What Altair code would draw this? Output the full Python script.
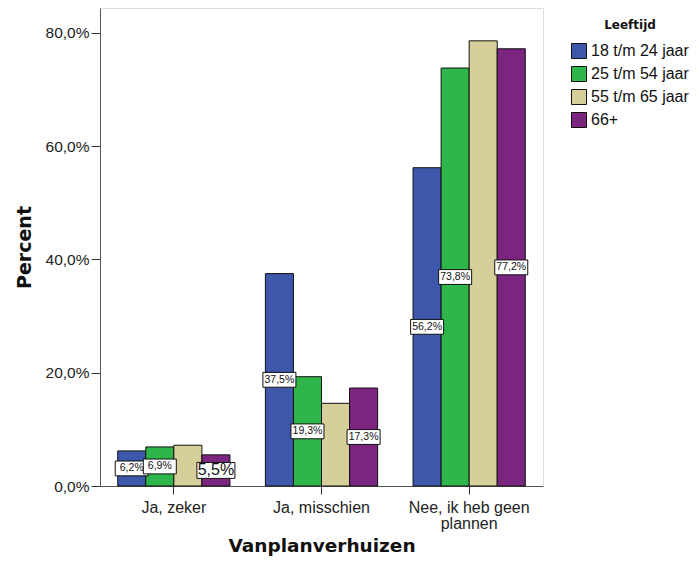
import altair as alt
import pandas as pd

categories = ["Ja, zeker", "Ja, misschien", "Nee, ik heb geen plannen"]
groups = ["18 t/m 24 jaar", "25 t/m 54 jaar", "55 t/m 65 jaar", "66+"]
colors = ["#3d58ab", "#2fb64b", "#d6cf99", "#7b2581"]

values = {
    "18 t/m 24 jaar": [6.2, 37.5, 56.2],
    "25 t/m 54 jaar": [6.9, 19.3, 73.8],
    "55 t/m 65 jaar": [7.2, 14.6, 78.6],
    "66+": [5.5, 17.3, 77.2],
}
# labels shown (beige group has none); big label on first 66+ bar
show_label = {
    "18 t/m 24 jaar": [True, True, True],
    "25 t/m 54 jaar": [True, True, True],
    "55 t/m 65 jaar": [False, False, False],
    "66+": [True, True, True],
}
big_label = {
    "18 t/m 24 jaar": [False, False, False],
    "25 t/m 54 jaar": [False, False, False],
    "55 t/m 65 jaar": [False, False, False],
    "66+": [True, False, False],
}

rows = []
for g in groups:
    for i, c in enumerate(categories):
        v = values[g][i]
        rows.append({
            "cat": c, "grp": g, "val": v, "mid": v / 2,
            "txt": f"{v:.1f}".replace(".", ",") + "%",
            "show": show_label[g][i],
            "big": big_label[g][i],
        })
df = pd.DataFrame(rows)

FONT = "Liberation Sans"
TFONT = "DejaVu Sans"

xenc = alt.X("cat:N", sort=categories,
             scale=alt.Scale(paddingInner=0.24, paddingOuter=0.12),
             axis=alt.Axis(title="Vanplanverhuizen", labelAngle=0,
                           labelFont=FONT, labelFontSize=16, labelColor="#222",
                           labelLineHeight=16,
                           labelExpr="datum.value == 'Nee, ik heb geen plannen' ? ['Nee, ik heb geen', 'plannen'] : datum.label",
                           titleFont=TFONT, titleFontSize=18.5, titleFontWeight="bold", titlePadding=5,
                           titleColor="#111", tickColor="#333", domainColor="#555",
                           tickSize=8, labelPadding=5))
xoff = alt.XOffset("grp:N", sort=groups, scale=alt.Scale(paddingInner=0, paddingOuter=0))

bars = alt.Chart(df).mark_bar(stroke="#111", strokeWidth=1).encode(
    x=xenc, xOffset=xoff,
    y=alt.Y("val:Q", scale=alt.Scale(domain=[0, 84.4], nice=False),
            axis=alt.Axis(title="Percent", values=[0, 20, 40, 60, 80],
                          labelExpr="replace(format(datum.value, '.1f'), '.', ',') + '%'",
                          labelFont=FONT, labelFontSize=15.5, labelColor="#222", grid=False,
                          titleFont=TFONT, titleFontSize=19, titleFontWeight="bold", titlePadding=11,
                          titleColor="#111", tickColor="#333", domainColor="#555",
                          tickSize=9, labelPadding=2)),
    color=alt.Color("grp:N", sort=groups, scale=alt.Scale(domain=groups, range=colors),
                    legend=alt.Legend(title="Leeftijd", orient="none", legendX=471, legendY=12,
                                      titleFont=TFONT, titleFontSize=12, titleFontWeight="bold",
                                      titleColor="#111", titleAnchor="middle",
                                      titlePadding=11, labelFont=FONT, labelFontSize=16,
                                      labelColor="#111",
                                      symbolType="square", symbolSize=225, symbolStrokeColor="#111",
                                      symbolStrokeWidth=1, rowPadding=3, labelOffset=4,
                                      labelLimit=300)),
)

lab = df[df["show"]]
small = lab[~lab["big"]]
bigdf = lab[lab["big"]]

def box(data, size, shape):
    return alt.Chart(data).mark_point(shape=shape, filled=True, fill="white", stroke="#111",
                                      strokeWidth=1, opacity=1, size=size).encode(
        x=alt.X("cat:N", sort=categories), xOffset=alt.XOffset("grp:N", sort=groups), y="mid:Q")

boxes_small = box(small, 1089, "M-1,-0.45L1,-0.45L1,0.45L-1,0.45Z")
boxes_big = box(bigdf, 1444, "M-1,-0.42L1,-0.42L1,0.42L-1,0.42Z")

txt_small = alt.Chart(small).mark_text(font=FONT, fontSize=10.5, color="#111").encode(
    x=alt.X("cat:N", sort=categories), xOffset=alt.XOffset("grp:N", sort=groups),
    y="mid:Q", text="txt:N")
txt_big = alt.Chart(bigdf).mark_text(font=FONT, fontSize=16, color="#111").encode(
    x=alt.X("cat:N", sort=categories), xOffset=alt.XOffset("grp:N", sort=groups),
    y="mid:Q", text="txt:N")

chart = alt.layer(bars, boxes_small, boxes_big, txt_small, txt_big).properties(
    width=443, height=478,
    autosize=alt.AutoSizeParams(type="none"),
    padding={"left": 92, "top": 0, "right": 148, "bottom": 76},
    background="white",
).configure_view(
    fill="#f0f0f0", stroke="#555", strokeWidth=1
).configure(font=FONT)

chart.save("out.html", embed_options={"renderer": "svg", "actions": False})
